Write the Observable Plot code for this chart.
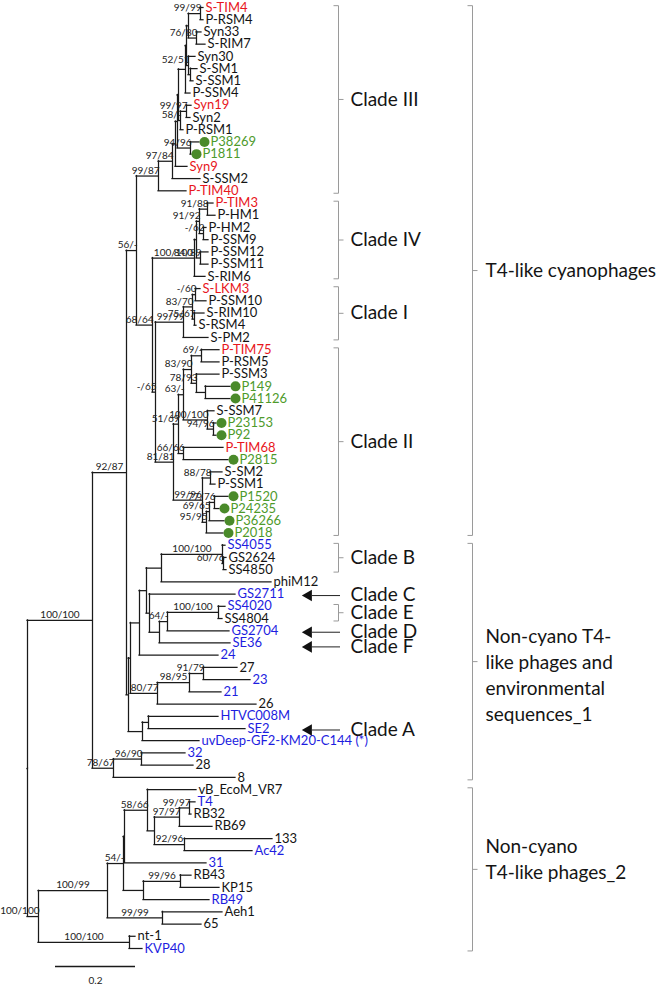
<!DOCTYPE html>
<html><head><meta charset="utf-8">
<script src="https://cdn.jsdelivr.net/npm/d3@7"></script>
<script src="https://cdn.jsdelivr.net/npm/@observablehq/plot@0.6"></script>
<style>body{margin:0;background:#fff} #chart svg{display:block}</style>
</head><body><div id="chart"></div>
<script>
// ---------- DATA: tree topology (Newick, branch lengths in substitutions/site, support = ML/NJ bootstrap) ----------
const cladeIII_K1 = "((S-TIM4:0.0075,P-RSM4:0.0075)99/99:0.03,(Syn33:0.0125,S-RIM7:0.0225)76/80:0.02):0.005";
const cladeIII_K2 = "(Syn30:0.0175,(S-SM1:0.0175,S-SSM1:0.0075):0.005)52/51:0.005";
const cladeIII_58 = "((Syn19:0.0125,Syn2:0.01)99/97:0.015,P-RSM1:0.0075)58/-:0.005";
const cladeIII_94 = "(P38269:0.0225,P1811:0.0025)94/96:0.0325";
const cladeIII = "((((((((" + cladeIII_K1 + "," + cladeIII_K2 + "):0.0025,P-SSM4:0.0125):0.0175," + cladeIII_58 +
  "):0.0025," + cladeIII_94 + "):0.005,Syn9:0.03):0.0075,S-SSM2:0.07)97/84:0.035,P-TIM40:0.07)99/87:0.055";

const cladeIV = "((((P-TIM3:0.015,P-HM1:0.02)91/88:0.02,(P-HM2:0.0075,P-SSM9:0.0125)-/62:0.01)91/92:0.0075," +
  "(P-SSM12:0.02,P-SSM11:0.02)84/89:0.01):0.005,S-RIM6:0.0275)100/100:0.105";

const cladeI = "(((S-LKM3:0.0125,P-SSM10:0.0275)-/60:0.0075,(S-RIM10:0.025,S-RSM4:0.005)75/67:0.005)83/70:0.0225,S-PM2:0.0625)99/99:0.07";

const cladeII_83 = "((P-TIM75:0.045,P-RSM5:0.045)69/-:0.025,(P-SSM3:0.0575,(P149:0.0625,P41126:0.0625):0.0225)78/93:0.0125)83/90:0.02";
const cladeII_100 = "(S-SSM7:0.0175,(P23153:0.0075,P92:0.0075)94/96:0.015)100/100:0.06";
const cladeII_66 = "(P-TIM68:0.1,P2815:0.1125)66/66:0.0125";
const cladeII_99 = "((S-SM2:0.03,P-SSM1:0.0125)88/78:0.02,(((P1520:0.035,P24235:0.0125)77/76:0.0125,P36266:0.0375)69/65:0.0075,P2018:0.0425)95/95:0.01)99/96:0.0725";
const cladeII = "(((" + cladeII_83 + "," + cladeII_100 + ")63/-:0.0125," + cladeII_66 + ")51/69:0.0125," + cladeII_99 + ")81/81:0.045";

const cyanophages = "(" + cladeIII + ",(" + cladeIV + ",(" + cladeI + "," + cladeII + ")-/65:0.0075)68/64:0.04)56/-:0.025";

const nonCyano1_BtoF = "((((SS4055:0.0075,(GS2624:0.0075,SS4850:0.0075)60/76:0.0025)100/100:0.1525,phiM12:0.275):0.0375," +
  "(GS2711:0.215,(((SS4020:0.0175,SS4804:0.01)100/100:0.1275,GS2704:0.155)64/-:0.02,SE36:0.1775):0.025):0.0075):0.0175,24:0.1975):0.0225";
const nonCyano1_80 = "(((27:0.085,23:0.1175)91/79:0.035,21:0.08)98/95:0.08,26:0.2475)80/77:0.0675";
const nonCyano1_A = "((HTVC008M:0.175,SE2:0.2425):0.015,uvDeep-GF2-KM20-C144:0.1425):0.035";
const nonCyano1 = "((" + nonCyano1_BtoF + "," + nonCyano1_80 + "):0.005," + nonCyano1_A + "):0.005";
const outgroup1 = "((32:0.11,28:0.13)96/90:0.07,8:0.305)78/67:0.0525";

const nonCyano2_58 = "(vB_EcoM_VR7:0.1225,(((T4:0.015,RB32:0.005)99/97:0.025,RB69:0.0825)97/97:0.0625,(133:0.22,Ac42:0.17)92/96:0.075):0.0175)58/66:0.0575";
const nonCyano2 = "((((" + nonCyano2_58 + ",31:0.205):0.0025,((RB43:0.0275,KP15:0.0975)99/96:0.0925,RB49:0.165):0.05)54/-:0.04," +
  "(Aeh1:0.15,65:0.0975)99/99:0.1375)100/99:0.1725,(nt-1:0.015,KVP40:0.0325)100/100:0.2275)100/100:0.0275";

const newick = "(((" + cyanophages + "," + nonCyano1 + ")92/87:0.085," + outgroup1 + ")100/100:0.1625," + nonCyano2 + ");";

// ---------- DATA: leaf categories ----------
const redLeaves = ["S-TIM4","Syn19","Syn9","P-TIM40","P-TIM3","S-LKM3","P-TIM75","P-TIM68"];
const greenLeaves = ["P38269","P1811","P149","P41126","P23153","P92","P2815","P1520","P24235","P36266","P2018"];
const blueLeaves = ["SS4055","GS2711","SS4020","GS2704","SE36","24","23","21","HTVC008M","SE2","uvDeep-GF2-KM20-C144",
  "32","T4","Ac42","31","RB49","KVP40"];
const footnoteLeaves = ["uvDeep-GF2-KM20-C144"];

// ---------- DATA: annotations ----------
const cladeNames = ["Clade III","Clade IV","Clade I","Clade II","Clade B","Clade E"];
const cladeFirst = ["S-TIM4","P-TIM3","S-LKM3","P-TIM75","SS4055","SS4020"];
const cladeLast  = ["P-TIM40","S-RIM6","S-PM2","P2018","SS4850","SS4804"];
const arrowNames = ["Clade C","Clade D","Clade F","Clade A"];
const arrowLeaves = ["GS2711","GS2704","SE36","SE2"];
const groupLines = [["T4-like cyanophages"],["Non-cyano T4-","like phages and","environmental","sequences_1"],["Non-cyano","T4-like phages_2"]];
const groupFirst = ["S-TIM4","SS4055","vB_EcoM_VR7"];
const groupLast  = ["P2018","8","KVP40"];
const scaleBarLength = 0.2;

// ---------- layout constants ----------
const X0 = 27, PXU = 400, Y0 = 7, Y1 = 948;
const COL = {red:"#e8161c", green:"#4e9a2b", blue:"#1d1de0", black:"#141414", dot:"#4a8a2a"};
const FONT = "Lato, 'Open Sans', sans-serif";
const arrowShift = [0, 0, 0.2, 0];
const groupShift = [0, 1.15, -0.8];

// ---------- parse Newick ----------
function parseNewick(s) {
  let i = 0;
  function node() {
    const n = {children: []};
    if (s[i] === "(") {
      i++;
      n.children.push(node());
      while (s[i] === ",") { i++; n.children.push(node()); }
      i++;
    }
    let name = "";
    while (i < s.length && !",():;".includes(s[i])) name += s[i++];
    let len = 0;
    if (s[i] === ":") { i++; let t = ""; while (i < s.length && !",();".includes(s[i])) t += s[i++]; len = +t; }
    n.name = name.trim(); n.length = len;
    return n;
  }
  return node();
}
const tree = parseNewick(newick);
const nodes = [];
let leafCount = 0;
(function walk(n, parent) {
  n.parent = parent;
  n.d = parent ? parent.d + n.length : 0;
  nodes.push(n);
  if (n.children.length) {
    n.children.forEach(c => walk(c, n));
    n.yi = (n.children[0].yi + n.children[n.children.length - 1].yi) / 2;
  } else n.yi = leafCount++;
})(tree, null);
const nL = leafCount;
const xOf = px => (px - X0) / PXU;
const yOf = px => (px - Y0) / (Y1 - Y0) * (nL - 1);
const leafIdx = new Map(nodes.filter(n => !n.children.length).map(n => [n.name, n.yi]));

const horizontals = nodes.filter(n => n.parent).map(n => ({x1: n.parent.d, x2: n.d, y: n.yi}));
const verticals = nodes.filter(n => n.children.length).map(n => ({x: n.d, y1: n.children[0].yi, y2: n.children[n.children.length - 1].yi}));
const support = nodes.filter(n => n.children.length && n.parent && n.name).map(n => {
  const len = (n.d - n.parent.d) * PXU, w = n.name.length * 5.3;
  const centered = len >= w + 2;
  return {x: centered ? (n.d + n.parent.d) / 2 : n.d, y: n.yi, text: n.name, centered};
});
const leaves = nodes.filter(n => !n.children.length).map(n => ({
  x: n.d, y: n.yi,
  label: n.name + (footnoteLeaves.includes(n.name) ? " (*)" : ""),
  green: greenLeaves.includes(n.name),
  color: redLeaves.includes(n.name) ? COL.red : greenLeaves.includes(n.name) ? COL.green : blueLeaves.includes(n.name) ? COL.blue : COL.black
}));

// ---------- annotation geometry ----------
function bracket(first, last, xpx, hook) {
  const a = leafIdx.get(first) - 0.15, b = leafIdx.get(last) + 0.2, m = (a + b) / 2;
  return {segs: [
    {x1: xOf(xpx), x2: xOf(xpx), y1: a, y2: b},
    {x1: xOf(xpx - hook), x2: xOf(xpx), y1: a, y2: a},
    {x1: xOf(xpx - hook), x2: xOf(xpx), y1: b, y2: b},
    {x1: xOf(xpx), x2: xOf(xpx + hook), y1: m, y2: m}], mid: m};
}
const bracketSegs = [];
const cladeText = [];
cladeNames.forEach((c, i) => {
  const b = bracket(cladeFirst[i], cladeLast[i], 338, 5);
  bracketSegs.push(...b.segs);
  cladeText.push({x: xOf(350), y: b.mid, text: c});
});
groupLines.forEach((lines, i) => {
  const b = bracket(groupFirst[i], groupLast[i], 472, 5);
  bracketSegs.push(...b.segs);
  lines.forEach((t, j) => cladeText.push({x: xOf(485), y: b.mid + groupShift[i] + (j - (lines.length - 1) / 2) * 2.12, text: t}));
});
const arrows = arrowLeaves.map((l, i) => ({x1: xOf(312), x2: xOf(340), y: leafIdx.get(l) + 0.12 + arrowShift[i], head: xOf(308)}));
arrowNames.forEach((c, i) => cladeText.push({x: xOf(350), y: leafIdx.get(arrowLeaves[i]) + 0.1 + arrowShift[i], text: c}));
const scaleBar = [{x1: xOf(55), x2: xOf(55) + scaleBarLength, y: yOf(966), label: String(scaleBarLength)}];

const chart = Plot.plot({
  width: 666, height: 985, margin: 0,
  x: {domain: [0, 1], range: [X0, X0 + PXU], axis: null},
  y: {domain: [0, nL - 1], range: [Y0, Y1], axis: null},
  color: {type: "identity"},
  style: {fontFamily: FONT, background: "#fff"},
  marks: [
    Plot.ruleY(horizontals, {x1: "x1", x2: "x2", y: "y", stroke: "#1a1a1a", strokeWidth: 1.25, strokeLinecap: "square"}),
    Plot.ruleX(verticals, {x: "x", y1: "y1", y2: "y2", stroke: "#1a1a1a", strokeWidth: 1.25, strokeLinecap: "square"}),
    Plot.text(support.filter(s => s.centered), {x: "x", y: "y", text: "text", textAnchor: "middle", dy: -5.5, fontSize: 10, fill: "#222"}),
    Plot.text(support.filter(s => !s.centered), {x: "x", y: "y", text: "text", textAnchor: "end", dx: 1, dy: -5.5, fontSize: 10, fill: "#222"}),
    Plot.dot(leaves.filter(d => d.green), {x: "x", y: "y", dx: 5, r: 5, fill: COL.dot, stroke: "none"}),
    Plot.text(leaves.filter(d => !d.green), {x: "x", y: "y", text: "label", fill: "color", textAnchor: "start", dx: 2, fontSize: 13}),
    Plot.text(leaves.filter(d => d.green), {x: "x", y: "y", text: "label", fill: "color", textAnchor: "start", dx: 11, fontSize: 13}),
    Plot.link(bracketSegs, {x1: "x1", x2: "x2", y1: "y1", y2: "y2", stroke: "#9a9a9a", strokeWidth: 1}),
    Plot.ruleY(arrows, {x1: "x1", x2: "x2", y: "y", stroke: "#222", strokeWidth: 1}),
    Plot.dot(arrows, {x: "head", y: "y", symbol: "triangle", rotate: -90, r: 4.3, fill: "#111", stroke: "none"}),
    Plot.text(cladeText, {x: "x", y: "y", text: "text", textAnchor: "start", fontSize: 19, fill: "#141414"}),
    Plot.ruleY(scaleBar, {x1: "x1", x2: "x2", y: "y", stroke: "#1a1a1a", strokeWidth: 1.3}),
    Plot.text(scaleBar, {x: d => (d.x1 + d.x2) / 2, y: d => d.y + 1.15, text: "label", fontSize: 10, fill: "#222"})
  ]
});
document.getElementById("chart").appendChild(chart);
</script>
</body></html>
